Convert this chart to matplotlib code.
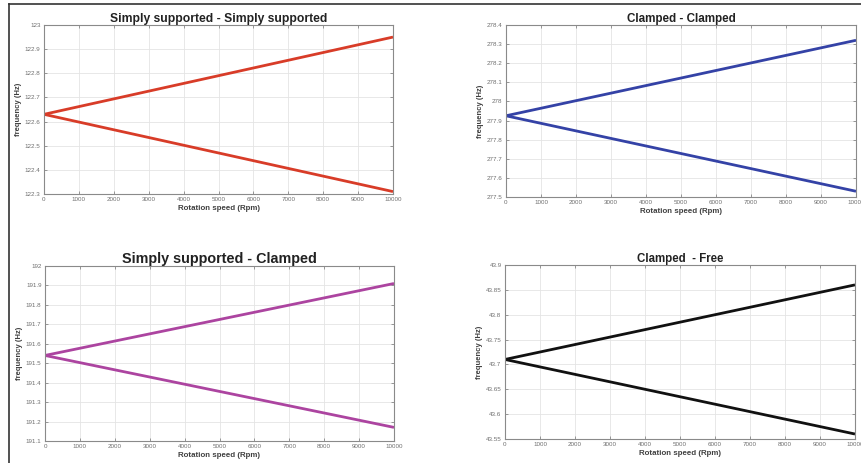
import numpy as np
import matplotlib
matplotlib.use("Agg")
import matplotlib.pyplot as plt
from matplotlib.lines import Line2D

plt.rcParams['font.family'] = ['Liberation Sans', 'DejaVu Sans']

# rotation speed (rpm), start and end of the sweep
speed = [0, 10000]

# forward / backward whirl frequencies (Hz)
ss_ss_fw = [122.63, 122.95]
ss_ss_bw = [122.63, 122.31]
cc_fw = [277.925, 278.32]
cc_bw = [277.925, 277.53]
ss_c_fw = [191.54, 191.91]
ss_c_bw = [191.54, 191.17]
cf_fw = [43.71, 43.86]
cf_bw = [43.71, 43.56]

W, H = 861, 463
fig = plt.figure(figsize=(W / 100, H / 100), dpi=100)
fig.patch.set_facecolor('white')


def make_ax(left, right, top, bottom):
    return fig.add_axes([left / W, (H - bottom) / H, (right - left) / W, (bottom - top) / H])


def style(ax, title, tsize, fw, bw, color, yticks, yfmt):
    ax.plot(speed, fw, color=color, lw=2.0, solid_capstyle='butt')
    ax.plot(speed, bw, color=color, lw=2.0, solid_capstyle='butt')
    ax.set_xlim(0, 10000)
    ax.set_ylim(yticks[0], yticks[-1])
    ax.set_xticks(np.arange(0, 10001, 1000))
    ax.set_yticks(yticks)
    ax.set_yticklabels([yfmt(v) for v in yticks])
    ax.grid(True, color='#e4e4e4', lw=0.6)
    ax.set_axisbelow(True)
    ax.tick_params(direction='in', length=2.5, width=0.6, labelsize=4.5,
                   labelcolor='#6e6e6e', color='#888888', top=True, right=True, pad=2.5)
    for s in ax.spines.values():
        s.set_color('#8a8a8a')
        s.set_linewidth(0.8)
    ax.set_title(title, fontsize=tsize, fontweight='bold', color='#222222', pad=2.5)
    ax.set_xlabel('Rotation speed (Rpm)', fontsize=5.7, fontweight='bold', color='#404040', labelpad=1.5)
    ax.set_ylabel('frequency (Hz)', fontsize=5.5, fontweight='bold', color='#404040', labelpad=2)


def fmt1(v):
    return ('%.1f' % v).rstrip('0').rstrip('.')


def fmt2(v):
    return ('%.2f' % v).rstrip('0').rstrip('.')


ax1 = make_ax(44, 393, 25, 194)
style(ax1, 'Simply supported - Simply supported', 8.7, ss_ss_fw, ss_ss_bw, '#d83c28',
      np.round(np.arange(122.3, 123.001, 0.1), 2), fmt1)

ax2 = make_ax(506, 856, 25, 197)
style(ax2, 'Clamped - Clamped', 8.4, cc_fw, cc_bw, '#3442a6',
      np.round(np.arange(277.5, 278.401, 0.1), 2), fmt1)

ax3 = make_ax(45, 394, 266, 441)
style(ax3, 'Simply supported - Clamped', 10.4, ss_c_fw, ss_c_bw, '#ac44a0',
      np.round(np.arange(191.1, 192.001, 0.1), 2), fmt1)

ax4 = make_ax(505, 855, 265, 439)
style(ax4, 'Clamped  - Free', 8.3, cf_fw, cf_bw, '#111111',
      np.round(np.arange(43.55, 43.901, 0.05), 2), fmt2)

# page frame along the top and left edges
fig.add_artist(Line2D([9 / W, 1], [1 - 4 / H, 1 - 4 / H], color='#333333', lw=1.2))
fig.add_artist(Line2D([9 / W, 9 / W], [0, 1 - 4 / H], color='#333333', lw=1.2))

fig.savefig('out.png', dpi=100)
